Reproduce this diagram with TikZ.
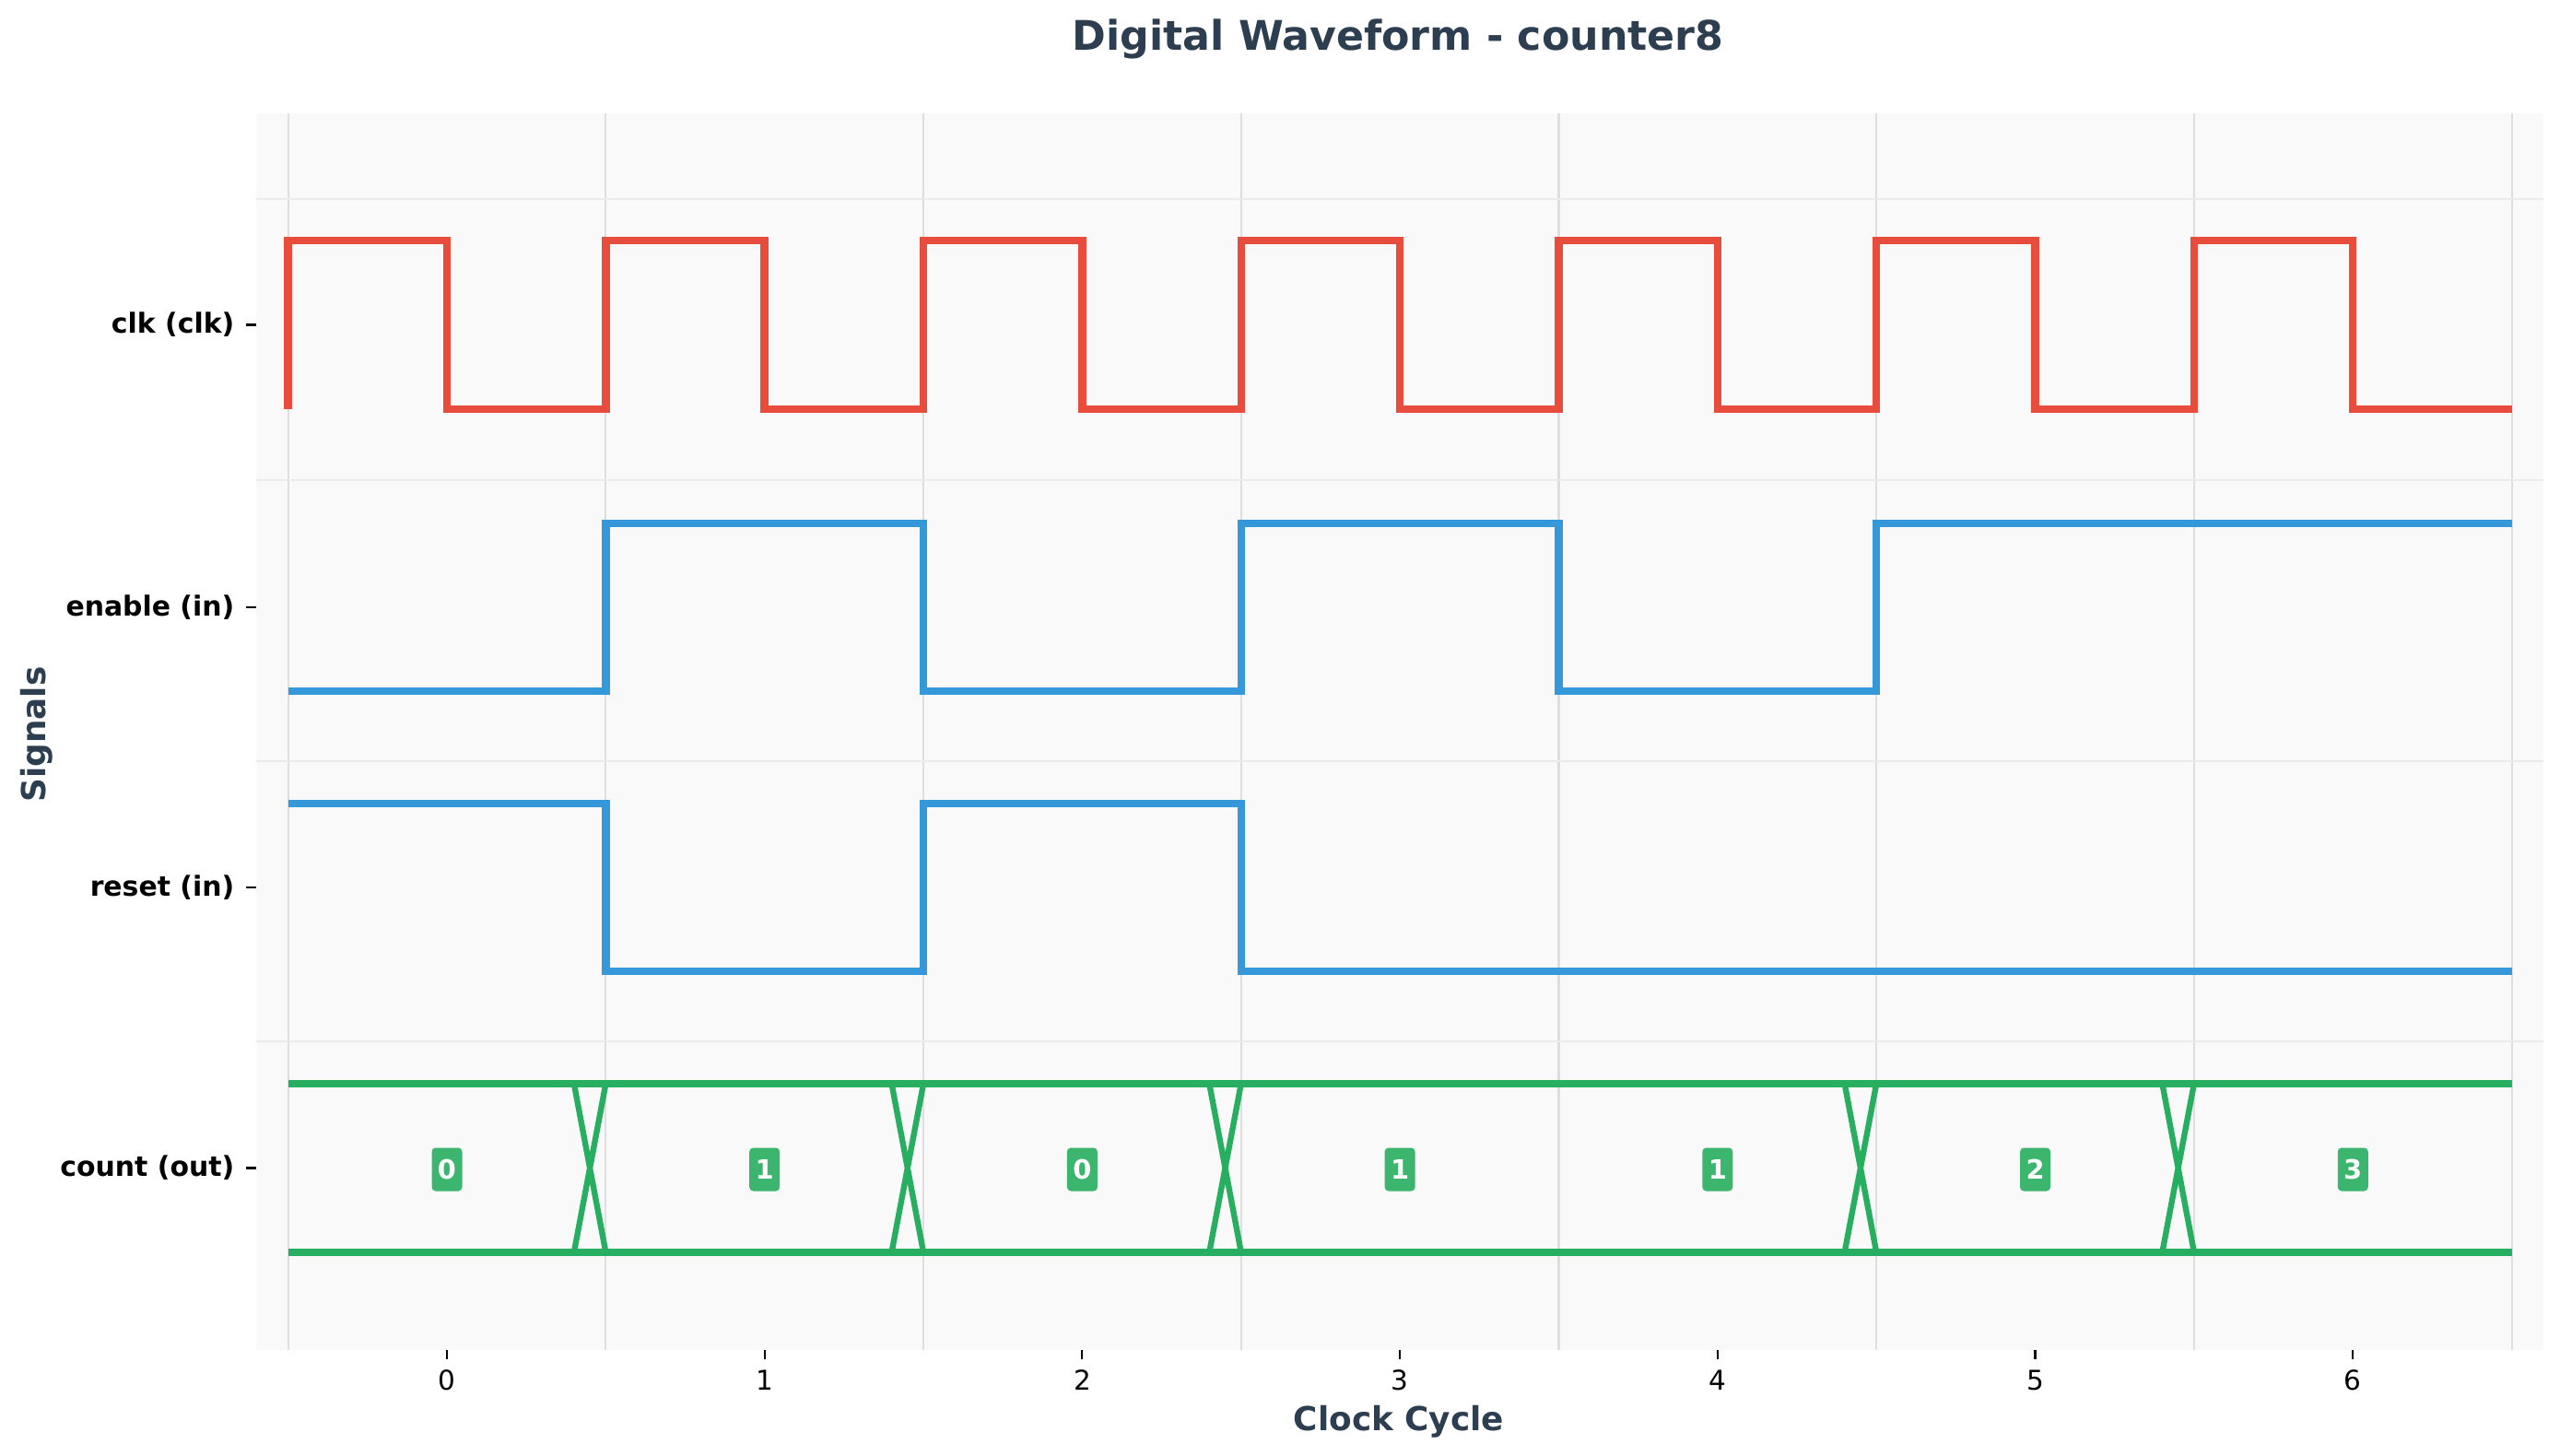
\documentclass[tikz,border=0pt]{standalone}
\usepackage{fontspec}
\setmainfont{DejaVu Sans}
\usetikzlibrary{positioning}
\definecolor{clkred}{HTML}{E74C3C}
\definecolor{sigblue}{HTML}{3498DB}
\definecolor{cntgreen}{HTML}{27AE60}
\definecolor{boxgreen}{RGB}{60,181,111}
\definecolor{slate}{HTML}{2C3E50}
\definecolor{plotbg}{HTML}{F9F9F9}
\definecolor{gridgray}{HTML}{DEDEDE}
\definecolor{gridlight}{HTML}{EBEBEB}
\tikzstyle{clkwave} = [line width=2.4pt, color=clkred]
\tikzstyle{inwave} = [line width=2.4pt, color=sigblue]
\tikzstyle{buswave} = [line width=2.05pt, color=cntgreen]
\tikzstyle{valbox} = [rectangle, rounded corners=1.2pt, fill=boxgreen, text=white, font=\bfseries\fontsize{8.2}{9}\selectfont, minimum width=0.33cm, minimum height=0.47cm, inner sep=0pt]
\tikzstyle{siglabel} = [anchor=east, inner sep=0pt, font=\bfseries\fontsize{8.5}{10}\selectfont]
\tikzstyle{ticklabel} = [anchor=base, inner sep=0pt, font=\fontsize{8.4}{10}\selectfont]
\tikzstyle{axislabel} = [anchor=base, inner sep=0pt, text=slate, font=\bfseries\fontsize{10.2}{12}\selectfont]
\tikzstyle{tickmark} = [line width=0.6pt, black]

\begin{document}
\begin{tikzpicture}
        \useasboundingbox (0,0) rectangle (27.78,15.79);
        \fill [white] (0,0) rectangle (27.78,15.79);
        \fill [plotbg] (2.78,1.14) rectangle (27.60,14.56);
        % titles
        \node [axislabel, font=\bfseries\fontsize{12.6}{15}\selectfont] at (15.17,15.24) (title) {Digital Waveform - counter8};
        \node [axislabel] at (15.18,0.27) (xlabel) {Clock Cycle};
        \node [axislabel, rotate=90] at (0.50,7.82) (ylabel) {Signals};
        % signal names
        \node [siglabel] at (2.55,12.265) (clk) {clk (clk)};
        \node [siglabel] at (2.55,9.20) (enable) {enable (in)};
        \node [siglabel] at (2.55,6.16) (reset) {reset (in)};
        \node [siglabel] at (2.55,3.115) (count) {count (out)};
        \draw [tickmark] (2.67,12.265) -- (2.78,12.265);
        \draw [tickmark] (2.67,9.20) -- (2.78,9.20);
        \draw [tickmark] (2.67,6.16) -- (2.78,6.16);
        \draw [tickmark] (2.67,3.115) -- (2.78,3.115);
        \begin{scope}[xshift=4.85cm, x=3.447cm]
        % grid
        \foreach \c in {-0.5,0.5,...,6.5}
                \draw [gridgray, line width=0.6pt] (\c,1.14) -- (\c,14.56);
        \foreach \h in {13.63,10.58,7.53,4.49}
                \draw [gridlight, line width=0.6pt] (-0.6,\h) -- (6.6,\h);
        % cycle axis
        \foreach \c in {0,...,6} {
                \draw [tickmark] (\c,1.14) -- (\c,1.04);
                \node [ticklabel] at (\c,0.71) (cyc\c) {\c};
        }
        % waveforms
        \draw [clkwave] (-0.5,11.35) |- (0,13.18) |- (0.5,11.35) |- (1,13.18) |- (1.5,11.35) |- (2,13.18) |- (2.5,11.35) |- (3,13.18) |- (3.5,11.35) |- (4,13.18) |- (4.5,11.35) |- (5,13.18) |- (5.5,11.35) |- (6,13.18) |- (6.5,11.35);
        \draw [inwave] (-0.5,8.29) -| (0.5,10.11) -| (1.5,8.29) -| (2.5,10.11) -| (3.5,8.29) -| (4.5,10.11) -- (6.5,10.11);
        \draw [inwave] (-0.5,7.07) -| (0.5,5.25) -| (1.5,7.07) -| (2.5,5.25) -- (6.5,5.25);
        \draw [buswave] (-0.5,4.03) -- (6.5,4.03);
        \draw [buswave] (-0.5,2.20) -- (6.5,2.20);
        \foreach \t in {0.4,1.4,2.4,4.4,5.4}
                \draw [buswave, line width=1.8pt] (\t,4.03) -- (\t+0.1,2.20) (\t,2.20) -- (\t+0.1,4.03);
        % count values
        \node [valbox] at (0,3.10) (val0) {0};
        \node [valbox] at (1,3.10) (val1) {1};
        \node [valbox] at (2,3.10) (val2) {0};
        \node [valbox] at (3,3.10) (val3) {1};
        \node [valbox] at (4,3.10) (val4) {1};
        \node [valbox] at (5,3.10) (val5) {2};
        \node [valbox] at (6,3.10) (val6) {3};
        \end{scope}
\end{tikzpicture}
\end{document}
